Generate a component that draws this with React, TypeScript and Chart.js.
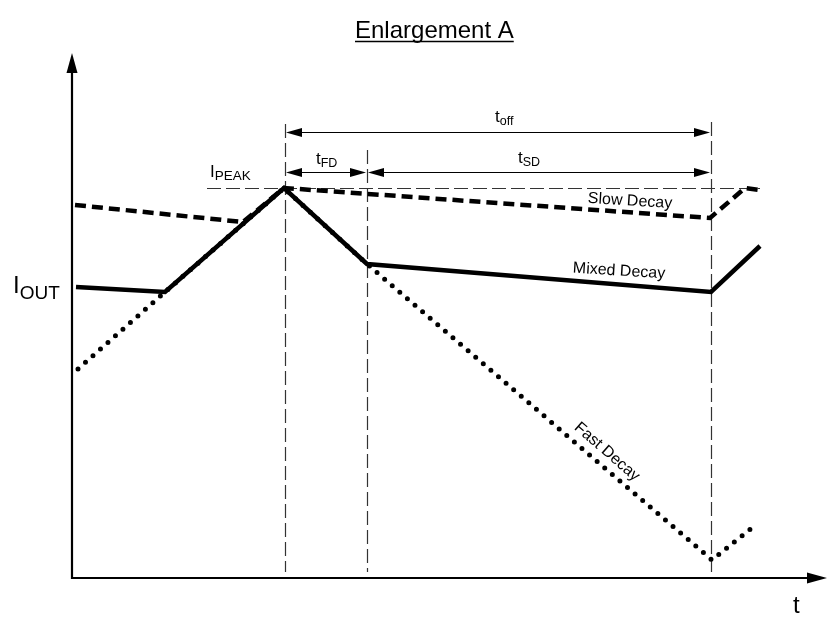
import React, { useEffect, useRef } from "react";
import { Chart, registerables } from "chart.js";

Chart.register(...registerables);

// ---- data (arbitrary time / current units) ----
const mixedT = [4, 93, 212, 295, 639, 688];
const mixedI = [291, 286, 390, 314, 286, 332];
const slowT = [3, 171, 212, 638, 673, 688];
const slowI = [373, 356, 390, 360, 390, 388];
const fastT = [6, 93, 212, 295, 640, 681];
const fastI = [209, 286, 390, 314, 18, 51];
const markerT = [213, 295, 639]; // t_peak, t_FD end, t_off end
const markerTop = [454, 428, 456];
const markerBottom = 6;
const peakLevel = 390;
const peakLineRange = [135, 688];
const tOffArrowLevel = 446;
const phaseArrowLevel = 406;
const seriesNames = ["Fast Decay", "Slow Decay", "Mixed Decay"];

const FONT = '"Liberation Sans", Arial, Helvetica, sans-serif';

function pts(xs: number[], ys: number[]) {
  return xs.map((x, i) => ({ x, y: ys[i] }));
}

function arrowHead(ctx: CanvasRenderingContext2D, tipX: number, tipY: number, dir: "left" | "right" | "up", len: number, half: number) {
  ctx.beginPath();
  if (dir === "left") {
    ctx.moveTo(tipX, tipY);
    ctx.lineTo(tipX + len, tipY - half);
    ctx.lineTo(tipX + len, tipY + half);
  } else if (dir === "right") {
    ctx.moveTo(tipX, tipY);
    ctx.lineTo(tipX - len, tipY - half);
    ctx.lineTo(tipX - len, tipY + half);
  } else {
    ctx.moveTo(tipX, tipY);
    ctx.lineTo(tipX - half, tipY + len);
    ctx.lineTo(tipX + half, tipY + len);
  }
  ctx.closePath();
  ctx.fill();
}

function subText(ctx: CanvasRenderingContext2D, x: number, y: number, main: string, sub: string, mainSize: number, subSize: number, dy: number) {
  ctx.font = `${mainSize}px ${FONT}`;
  ctx.textAlign = "left";
  ctx.textBaseline = "alphabetic";
  ctx.fillText(main, x, y);
  const w = ctx.measureText(main).width;
  ctx.font = `${subSize}px ${FONT}`;
  ctx.fillText(sub, x + w, y + dy);
}

function rotText(ctx: CanvasRenderingContext2D, x: number, y: number, text: string, size: number, deg: number) {
  ctx.save();
  ctx.translate(x, y);
  ctx.rotate((deg * Math.PI) / 180);
  ctx.font = `${size}px ${FONT}`;
  ctx.textAlign = "center";
  ctx.textBaseline = "middle";
  ctx.fillText(text, 0, 0);
  ctx.restore();
}

const diagramPlugin = {
  id: "diagram",
  beforeDatasetsDraw(chart: any) {
    const ctx: CanvasRenderingContext2D = chart.ctx;
    const xs = chart.scales.x;
    const ys = chart.scales.y;
    ctx.save();
    ctx.strokeStyle = "#333";
    ctx.lineWidth = 1.2;
    ctx.setLineDash([14, 5]);
    markerT.forEach((t, i) => {
      const px = Math.round(xs.getPixelForValue(t)) + 0.5;
      ctx.beginPath();
      ctx.moveTo(px, ys.getPixelForValue(markerTop[i]));
      ctx.lineTo(px, ys.getPixelForValue(markerBottom));
      ctx.stroke();
    });
    const py = Math.round(ys.getPixelForValue(peakLevel)) + 0.5;
    ctx.beginPath();
    ctx.moveTo(xs.getPixelForValue(peakLineRange[0]), py);
    ctx.lineTo(xs.getPixelForValue(peakLineRange[1]), py);
    ctx.stroke();
    ctx.restore();
  },
  afterDatasetsDraw(chart: any) {
    const ctx: CanvasRenderingContext2D = chart.ctx;
    const xs = chart.scales.x;
    const ys = chart.scales.y;
    const a = chart.chartArea;
    ctx.save();
    ctx.fillStyle = "#000";
    ctx.strokeStyle = "#000";

    // axes
    ctx.lineWidth = 2.2;
    ctx.beginPath();
    ctx.moveTo(a.left, a.top + 15);
    ctx.lineTo(a.left, a.bottom);
    ctx.lineTo(a.right - 15, a.bottom);
    ctx.stroke();
    arrowHead(ctx, a.left, a.top, "up", 20, 5.5);
    arrowHead(ctx, a.right, a.bottom, "right", 20, 5.5);

    // dimension arrows
    ctx.lineWidth = 1;
    const x0 = xs.getPixelForValue(markerT[0]);
    const x1 = xs.getPixelForValue(markerT[1]);
    const x2 = xs.getPixelForValue(markerT[2]);
    const yOff = Math.round(ys.getPixelForValue(tOffArrowLevel)) + 0.5;
    const yPh = Math.round(ys.getPixelForValue(phaseArrowLevel)) + 0.5;
    ctx.beginPath();
    ctx.moveTo(x0 + 8, yOff);
    ctx.lineTo(x2 - 8, yOff);
    ctx.moveTo(x0 + 8, yPh);
    ctx.lineTo(x1 - 8, yPh);
    ctx.moveTo(x1 + 8, yPh);
    ctx.lineTo(x2 - 8, yPh);
    ctx.stroke();
    const L = 16, H = 4.5;
    arrowHead(ctx, x0 + 1, yOff, "left", L, H);
    arrowHead(ctx, x2 - 1, yOff, "right", L, H);
    arrowHead(ctx, x0 + 1, yPh, "left", L, H);
    arrowHead(ctx, x1 - 1, yPh, "right", L, H);
    arrowHead(ctx, x1 + 1, yPh, "left", L, H);
    arrowHead(ctx, x2 - 1, yPh, "right", L, H);

    // dimension labels
    subText(ctx, xs.getPixelForValue(423), ys.getPixelForValue(456), "t", "off", 17, 12.5, 3);
    subText(ctx, xs.getPixelForValue(244), ys.getPixelForValue(414), "t", "FD", 17, 12.5, 3);
    subText(ctx, xs.getPixelForValue(446), ys.getPixelForValue(415), "t", "SD", 17, 12.5, 3);
    subText(ctx, xs.getPixelForValue(138), ys.getPixelForValue(401), "I", "PEAK", 17, 13.5, 3);

    // series labels
    rotText(ctx, xs.getPixelForValue(558), ys.getPixelForValue(377), seriesNames[1], 16, 3.5);
    rotText(ctx, xs.getPixelForValue(547), ys.getPixelForValue(307), seriesNames[2], 16, 3.5);
    rotText(ctx, xs.getPixelForValue(535), ys.getPixelForValue(126), seriesNames[0], 16, 41);

    // axis labels
    subText(ctx, 13, 293, "I", "OUT", 24, 19, 6);
    ctx.font = `24px ${FONT}`;
    ctx.textAlign = "left";
    ctx.fillText("t", 793, 613);

    // title with underline
    ctx.font = `24px ${FONT}`;
    ctx.textAlign = "left";
    ctx.textBaseline = "alphabetic";
    const title = "Enlargement A";
    ctx.fillText(title, 355, 38);
    const tw = ctx.measureText(title).width;
    ctx.lineWidth = 1.5;
    ctx.beginPath();
    ctx.moveTo(355, 41.5);
    ctx.lineTo(355 + tw, 41.5);
    ctx.stroke();
    ctx.restore();
  },
};

export default function App() {
  const ref = useRef<HTMLCanvasElement>(null);
  useEffect(() => {
    document.body.style.margin = "0";
    const canvas = ref.current!;
    const chart = new Chart(canvas, {
      type: "line",
      data: {
        datasets: [
          {
            label: seriesNames[0],
            data: pts(fastT, fastI),
            borderColor: "#000",
            borderWidth: 5,
            borderDash: [0, 10],
            borderCapStyle: "round",
            pointRadius: 0,
            tension: 0,
          },
          {
            label: seriesNames[1],
            data: pts(slowT, slowI),
            borderColor: "#000",
            borderWidth: 4.5,
            borderDash: [11, 6],
            borderCapStyle: "butt",
            pointRadius: 0,
            tension: 0,
          },
          {
            label: seriesNames[2],
            data: pts(mixedT, mixedI),
            borderColor: "#000",
            borderWidth: 4.5,
            borderJoinStyle: "miter",
            pointRadius: 0,
            tension: 0,
          },
        ],
      },
      options: {
        animation: false,
        responsive: false,
        devicePixelRatio: 1,
        layout: { padding: { left: 72, right: 6, top: 53, bottom: 46 } },
        plugins: { legend: { display: false }, title: { display: false }, tooltip: { enabled: false } },
        scales: {
          x: { type: "linear", min: 0, max: 755, display: false },
          y: { type: "linear", min: 0, max: 525, display: false },
        },
        events: [],
      } as any,
      plugins: [diagramPlugin],
    });
    return () => chart.destroy();
  }, []);
  return (
    <div style={{ width: 833, height: 624, background: "#fff" }}>
      <canvas ref={ref} width={833} height={624} />
    </div>
  );
}
